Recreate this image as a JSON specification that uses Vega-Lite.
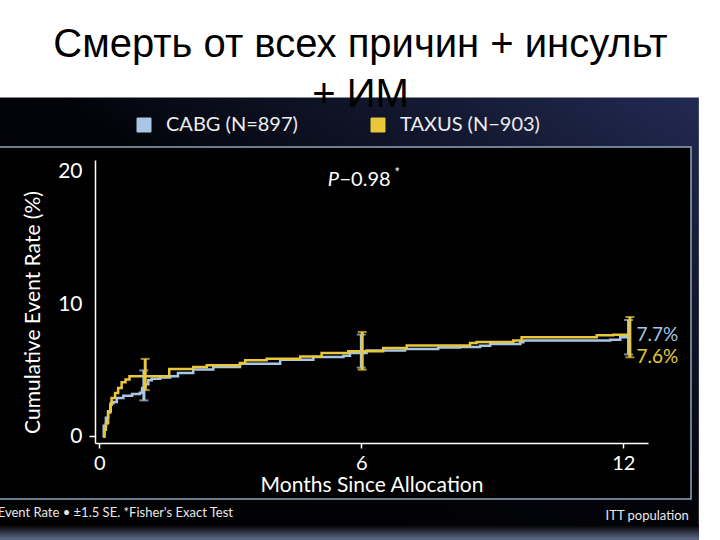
{
  "$schema": "https://vega.github.io/schema/vega-lite/v6.json",
  "description": "Смерть от всех причин + инсульт + ИМ: CABG vs TAXUS",
  "background": "white",
  "autosize": {"type": "none"},
  "padding": {"left": 95, "top": 160, "right": 72, "bottom": 97},
  "width": 553,
  "height": 283,
  "title": {
    "text": ["Смерть от всех причин + инсульт", "+ ИМ"],
    "font": "Liberation Sans",
    "fontSize": 40,
    "fontWeight": "normal",
    "color": "black",
    "lineHeight": 50,
    "anchor": "middle",
    "dx": -11,
    "dy": 27,
    "offset": 10
  },
  "datasets": {
    "km": [
      {"group": "CABG", "month": 0.08, "rate": 0},
      {"group": "CABG", "month": 0.1, "rate": 0.8},
      {"group": "CABG", "month": 0.15, "rate": 1.4},
      {"group": "CABG", "month": 0.2, "rate": 1.9},
      {"group": "CABG", "month": 0.26, "rate": 2.5},
      {"group": "CABG", "month": 0.32, "rate": 2.6},
      {"group": "CABG", "month": 0.4, "rate": 2.9},
      {"group": "CABG", "month": 0.55, "rate": 3.08},
      {"group": "CABG", "month": 0.75, "rate": 3.2},
      {"group": "CABG", "month": 0.93, "rate": 3.3},
      {"group": "CABG", "month": 0.98, "rate": 3.66},
      {"group": "CABG", "month": 1.05, "rate": 3.95},
      {"group": "CABG", "month": 1.12, "rate": 4.24},
      {"group": "CABG", "month": 1.2, "rate": 4.36},
      {"group": "CABG", "month": 1.39, "rate": 4.46},
      {"group": "CABG", "month": 1.62, "rate": 4.54},
      {"group": "CABG", "month": 1.8, "rate": 4.8},
      {"group": "CABG", "month": 2.15, "rate": 5.05},
      {"group": "CABG", "month": 2.61, "rate": 5.25},
      {"group": "CABG", "month": 3.22, "rate": 5.5},
      {"group": "CABG", "month": 4.14, "rate": 5.8},
      {"group": "CABG", "month": 4.9, "rate": 6.0},
      {"group": "CABG", "month": 5.59, "rate": 6.1},
      {"group": "CABG", "month": 5.74, "rate": 6.3},
      {"group": "CABG", "month": 6.12, "rate": 6.5},
      {"group": "CABG", "month": 7.0, "rate": 6.6},
      {"group": "CABG", "month": 7.76, "rate": 6.73},
      {"group": "CABG", "month": 8.26, "rate": 6.76},
      {"group": "CABG", "month": 8.72, "rate": 6.86},
      {"group": "CABG", "month": 8.95, "rate": 6.99},
      {"group": "CABG", "month": 9.64, "rate": 7.11},
      {"group": "CABG", "month": 9.71, "rate": 7.26},
      {"group": "CABG", "month": 11.7, "rate": 7.31},
      {"group": "CABG", "month": 11.93, "rate": 7.49},
      {"group": "CABG", "month": 12.1, "rate": 7.56},
      {"group": "TAXUS", "month": 0.08, "rate": 0},
      {"group": "TAXUS", "month": 0.12, "rate": 0.5},
      {"group": "TAXUS", "month": 0.15, "rate": 1.0},
      {"group": "TAXUS", "month": 0.2, "rate": 1.8},
      {"group": "TAXUS", "month": 0.25, "rate": 2.4},
      {"group": "TAXUS", "month": 0.28, "rate": 2.9},
      {"group": "TAXUS", "month": 0.36, "rate": 3.28},
      {"group": "TAXUS", "month": 0.43, "rate": 3.65},
      {"group": "TAXUS", "month": 0.51, "rate": 4.1},
      {"group": "TAXUS", "month": 0.6, "rate": 4.3},
      {"group": "TAXUS", "month": 0.69, "rate": 4.54},
      {"group": "TAXUS", "month": 1.6, "rate": 5.1},
      {"group": "TAXUS", "month": 2.15, "rate": 5.25},
      {"group": "TAXUS", "month": 2.46, "rate": 5.37},
      {"group": "TAXUS", "month": 3.22, "rate": 5.55},
      {"group": "TAXUS", "month": 3.34, "rate": 5.75},
      {"group": "TAXUS", "month": 3.83, "rate": 5.88},
      {"group": "TAXUS", "month": 4.6, "rate": 6.05},
      {"group": "TAXUS", "month": 5.09, "rate": 6.3},
      {"group": "TAXUS", "month": 5.7, "rate": 6.43},
      {"group": "TAXUS", "month": 6.5, "rate": 6.69},
      {"group": "TAXUS", "month": 7.04, "rate": 6.88},
      {"group": "TAXUS", "month": 8.49, "rate": 7.06},
      {"group": "TAXUS", "month": 8.64, "rate": 7.14},
      {"group": "TAXUS", "month": 9.48, "rate": 7.26},
      {"group": "TAXUS", "month": 9.67, "rate": 7.49},
      {"group": "TAXUS", "month": 11.39, "rate": 7.64},
      {"group": "TAXUS", "month": 11.77, "rate": 7.69},
      {"group": "TAXUS", "month": 12.15, "rate": 7.69}
    ],
    "err": [
      {"group": "CABG", "month": 1.02, "lo": 2.72, "hi": 4.99},
      {"group": "CABG", "month": 6.0, "lo": 5.2, "hi": 7.7},
      {"group": "CABG", "month": 12.12, "lo": 6.2, "hi": 8.8},
      {"group": "TAXUS", "month": 1.05, "lo": 3.5, "hi": 5.86},
      {"group": "TAXUS", "month": 6.02, "lo": 5.04, "hi": 7.9},
      {"group": "TAXUS", "month": 12.15, "lo": 5.98, "hi": 9.03}
    ]
  },
  "layer": [
    {
      "data": {"values": [{}]},
      "mark": {
        "type": "rect",
        "color": {
          "gradient": "linear",
          "x1": 0, "y1": 1, "x2": 1, "y2": 0,
          "stops": [
            {"offset": 0, "color": "#000000"},
            {"offset": 0.55, "color": "#03040a"},
            {"offset": 1, "color": "#222a52"}
          ]
        }
      },
      "encoding": {
        "x": {"datum": -2.5, "type": "quantitative"},
        "x2": {"datum": 13.73},
        "y": {"datum": 25.62, "type": "quantitative"},
        "y2": {"datum": -8.3}
      }
    },
    {
      "data": {"values": [{}]},
      "mark": {
        "type": "rect",
        "color": {
          "gradient": "linear",
          "x1": 0, "y1": 0, "x2": 0, "y2": 1,
          "stops": [
            {"offset": 0, "color": "#000000"},
            {"offset": 0.65, "color": "#5a6580"},
            {"offset": 1, "color": "#2c3448"}
          ]
        }
      },
      "encoding": {
        "x": {"datum": -2.5, "type": "quantitative"},
        "x2": {"datum": 13.73},
        "y": {"datum": -6.7, "type": "quantitative"},
        "y2": {"datum": -8.3}
      }
    },
    {
      "data": {"values": [{}]},
      "mark": {"type": "rect", "fill": "#000000", "stroke": "#8ea6bc", "strokeWidth": 1.5},
      "encoding": {
        "x": {"datum": -2.6, "type": "quantitative"},
        "x2": {"datum": 13.55},
        "y": {"datum": 21.88, "type": "quantitative"},
        "y2": {"datum": -4.74}
      }
    },
    {
      "data": {"name": "km"},
      "mark": {"type": "line", "interpolate": "step-after", "strokeWidth": 2.5},
      "encoding": {
        "x": {
          "field": "month",
          "type": "quantitative",
          "title": "Months Since Allocation",
          "scale": {"domain": [-0.1, 12.565], "nice": false, "zero": false},
          "axis": {
            "values": [0, 6, 12],
            "zindex": 1,
            "grid": false,
            "domainColor": "white",
            "domainWidth": 1.5,
            "tickColor": "white",
            "tickWidth": 1.5,
            "tickSize": 5,
            "labelColor": "white",
            "labelFontSize": 20,
            "labelPadding": 5,
            "titleColor": "white",
            "titleFontSize": 21,
            "titleFontWeight": "normal",
            "titlePadding": 1
          }
        },
        "y": {
          "field": "rate",
          "type": "quantitative",
          "title": "Cumulative Event Rate (%)",
          "scale": {"domain": [-0.5, 20.9], "nice": false, "zero": false},
          "axis": {
            "values": [0, 10, 20],
            "zindex": 1,
            "grid": false,
            "domainColor": "white",
            "domainWidth": 1.5,
            "tickColor": "white",
            "tickWidth": 1.5,
            "tickSize": 6,
            "tickOpacity": {"condition": {"test": "datum.value == 0", "value": 1}, "value": 0},
            "labelColor": "white",
            "labelFontSize": 21,
            "labelPadding": 7,
            "titleColor": "white",
            "titleFontSize": 21,
            "titleFontWeight": "normal",
            "titlePadding": 14,
            "titleY": 152
          }
        },
        "color": {
          "field": "group",
          "type": "nominal",
          "scale": {"domain": ["CABG", "TAXUS"], "range": ["#a9c6e6", "#e8c83a"]},
          "legend": {
            "orient": "none",
            "direction": "horizontal",
            "legendX": 39,
            "legendY": -45,
            "title": null,
            "symbolType": "square",
            "symbolSize": 196,
            "symbolStrokeWidth": 1,
            "labelExpr": "datum.value == 'CABG' ? 'CABG (N=897)' : 'TAXUS (N−903)'",
            "labelColor": "#ececec",
            "labelFontSize": 20,
            "labelOffset": 12,
            "columnPadding": 70,
            "encode": {
              "symbols": {"update": {"fill": {"scale": "color", "field": "value"}, "fillOpacity": {"value": 1}}}
            }
          }
        }
      }
    },
    {
      "data": {"name": "err"},
      "mark": {"type": "errorbar", "ticks": {"size": 9, "thickness": 2}, "rule": {"strokeWidth": 3}},
      "encoding": {
        "x": {"field": "month", "type": "quantitative", "title": "Months Since Allocation"},
        "y": {"field": "lo", "type": "quantitative", "title": "Cumulative Event Rate (%)"},
        "y2": {"field": "hi"},
        "color": {"field": "group", "type": "nominal", "legend": null}
      }
    },
    {
      "data": {"values": [{}]},
      "mark": {"type": "text", "text": "P", "fontStyle": "italic", "fontSize": 20, "color": "white", "align": "right", "baseline": "middle"},
      "encoding": {
        "x": {"datum": 5.49, "type": "quantitative"},
        "y": {"datum": 19.42, "type": "quantitative"}
      }
    },
    {
      "data": {"values": [{}]},
      "mark": {"type": "text", "text": "−0.98", "fontSize": 20, "color": "white", "align": "left", "baseline": "middle"},
      "encoding": {
        "x": {"datum": 5.5, "type": "quantitative"},
        "y": {"datum": 19.42, "type": "quantitative"}
      }
    },
    {
      "data": {"values": [{}]},
      "mark": {"type": "text", "text": "*", "fontSize": 13, "color": "white", "align": "left", "baseline": "middle"},
      "encoding": {
        "x": {"datum": 6.76, "type": "quantitative"},
        "y": {"datum": 19.9, "type": "quantitative"}
      }
    },
    {
      "data": {"values": [{}]},
      "mark": {"type": "text", "text": "7.7%", "fontSize": 19, "color": "#a9c6e6", "align": "left", "baseline": "middle"},
      "encoding": {
        "x": {"datum": 12.3, "type": "quantitative"},
        "y": {"datum": 7.65, "type": "quantitative"}
      }
    },
    {
      "data": {"values": [{}]},
      "mark": {"type": "text", "text": "7.6%", "fontSize": 19, "color": "#e8c83a", "align": "left", "baseline": "middle"},
      "encoding": {
        "x": {"datum": 12.3, "type": "quantitative"},
        "y": {"datum": 5.98, "type": "quantitative"}
      }
    },
    {
      "data": {"values": [{}]},
      "mark": {"type": "text", "text": "Event Rate • ±1.5 SE. *Fisher's Exact Test", "fontSize": 13, "color": "#e8e8e8", "align": "right", "baseline": "middle"},
      "encoding": {
        "x": {"datum": 3.06, "type": "quantitative"},
        "y": {"datum": -5.77, "type": "quantitative"}
      }
    },
    {
      "data": {"values": [{}]},
      "mark": {"type": "text", "text": "ITT population", "fontSize": 13, "color": "#e8e8e8", "align": "right", "baseline": "middle"},
      "encoding": {
        "x": {"datum": 13.5, "type": "quantitative"},
        "y": {"datum": -6.0, "type": "quantitative"}
      }
    }
  ],
  "config": {
    "font": "Lato",
    "view": {"stroke": null}
  }
}
